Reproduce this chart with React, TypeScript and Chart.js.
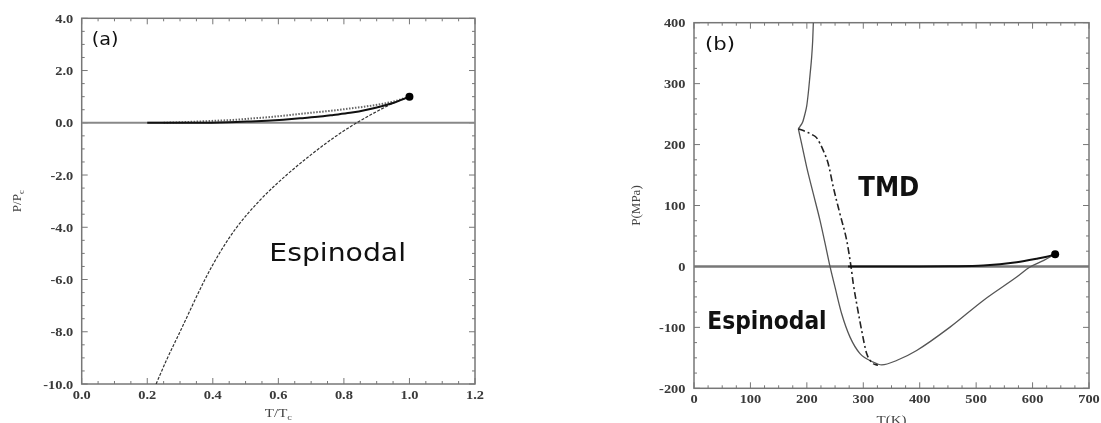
import React, { useEffect, useRef } from "react";
import { Chart, registerables } from "chart.js";
Chart.register(...registerables);

// ---------- Panel (a): reduced units ----------
const aZeroT = [0, 1.2];
const aZeroP = [0, 0];
const aSpinodalT = [0.227, 0.26, 0.30, 0.376, 0.42, 0.473, 0.545, 0.625, 0.70, 0.768, 0.839, 0.90, 0.95, 1.0];
const aSpinodalP = [-10.0, -9.05, -8.0, -6.0, -5.0, -4.0, -2.95, -2.0, -1.22, -0.58, 0.0, 0.43, 0.75, 1.0];
const aUpperT = [0.25, 0.30, 0.36, 0.41, 0.463, 0.513, 0.565, 0.615, 0.666, 0.72, 0.768, 0.819, 0.87, 0.95, 1.0];
const aUpperP = [0.0, 0.02, 0.05, 0.08, 0.11, 0.16, 0.21, 0.27, 0.34, 0.41, 0.47, 0.55, 0.63, 0.81, 1.0];
const aLowerT = [0.20, 0.35, 0.45, 0.513, 0.565, 0.615, 0.666, 0.72, 0.768, 0.819, 0.87, 0.95, 1.0];
const aLowerP = [0.0, 0.0, 0.02, 0.05, 0.08, 0.12, 0.17, 0.23, 0.30, 0.38, 0.5, 0.76, 1.0];
const aCriticalT = [1.0];
const aCriticalP = [1.0];

// ---------- Panel (b): T (K), P (MPa) ----------
const bZeroT = [0, 700];
const bZeroP = [0, 0];
const bMeltT = [184.9, 188, 192.6, 196.7, 199.7, 202.6, 205.6, 208.5, 210.3, 211.5];
const bMeltP = [226, 230, 237, 250.6, 263, 285, 314, 343.5, 370, 400];
const bSpinT = [184.9, 190.8, 199.7, 211.5, 223.3, 235, 241, 249.9, 261.7, 276.5, 294.2, 317.8, 332.6, 360, 394.6, 453.7, 512.7, 571.8, 595.4, 620, 640];
const bSpinP = [226, 201, 163, 119, 75.5, 26, 0, -34, -77.7, -116, -143, -157, -161.5, -154, -137.9, -99.6, -55.8, -17.5, -1, 10, 20];
const bTmdT = [184.9, 199.7, 210, 217.4, 229.2, 238, 246.9, 258.7, 270.6, 278.2, 282.3, 289.4, 297.1, 306, 317.8, 326];
const bTmdP = [226, 220.5, 216, 211, 190, 168, 130, 86, 42.7, 0, -28.5, -66.7, -105, -143, -159.7, -162];
const bCoexT = [273, 400, 453.7, 512.7, 571.8, 607, 625, 640];
const bCoexP = [0, 0, 0.3, 1.6, 7, 12.6, 16, 20];
const bCriticalT = [640];
const bCriticalP = [20];

const zip = (xs: number[], ys: number[]) => xs.map((x, i) => ({ x, y: ys[i] }));

type Label = { text: string; x: number; y: number; font: string; width: number };
type Decor = {
  xMinor: number; xMajor: number; yMinor: number; yMajor: number;
  fmt: (v: number) => string;
  xTitle: [string, string]; yTitle: [string, string];
  xTitleY: number; yTitleX: number;
  labels: Label[];
};

const TITLE_FONT = "13px 'Liberation Serif'";
const SUB_FONT = "9px 'Liberation Serif'";
const TICK_FONT = "bold 12px 'Liberation Serif'";
const STRETCH = 1.2;

function drawTitle(ctx: CanvasRenderingContext2D, parts: [string, string], sx: number) {
  ctx.font = TITLE_FONT;
  const w1 = ctx.measureText(parts[0]).width;
  ctx.font = SUB_FONT;
  const w2 = ctx.measureText(parts[1]).width;
  const total = w1 + w2;
  ctx.scale(sx, 1);
  ctx.textAlign = "left";
  ctx.textBaseline = "middle";
  ctx.font = TITLE_FONT;
  ctx.fillText(parts[0], -total / 2, 0);
  ctx.font = SUB_FONT;
  ctx.fillText(parts[1], -total / 2 + w1, 4);
}

function drawScaled(ctx: CanvasRenderingContext2D, text: string, x: number, y: number, align: CanvasTextAlign, sx: number) {
  ctx.save();
  ctx.translate(x, y);
  ctx.scale(sx, 1);
  ctx.textAlign = align;
  ctx.textBaseline = "middle";
  ctx.fillText(text, 0, 0);
  ctx.restore();
}

function decorPlugin(d: Decor) {
  return {
    id: "decor",
    beforeDatasetsDraw(chart: any) {
      const { ctx, chartArea: a, scales } = chart;
      const xs = scales.x, ys = scales.y;
      ctx.save();
      ctx.strokeStyle = "#777";
      ctx.lineWidth = 1;
      const isMajor = (v: number, m: number) => Math.abs(v / m - Math.round(v / m)) < 1e-6;
      const nx = Math.round((xs.max - xs.min) / d.xMinor);
      for (let i = 0; i <= nx; i++) {
        const v = xs.min + i * d.xMinor;
        const px = xs.getPixelForValue(v);
        const len = isMajor(v, d.xMajor) ? 6 : 3;
        ctx.beginPath();
        ctx.moveTo(px, a.bottom); ctx.lineTo(px, a.bottom - len);
        ctx.moveTo(px, a.top); ctx.lineTo(px, a.top + len);
        ctx.stroke();
      }
      const ny = Math.round((ys.max - ys.min) / d.yMinor);
      for (let i = 0; i <= ny; i++) {
        const v = ys.min + i * d.yMinor;
        const py = ys.getPixelForValue(v);
        const len = isMajor(v, d.yMajor) ? 6 : 3;
        ctx.beginPath();
        ctx.moveTo(a.left, py); ctx.lineTo(a.left + len, py);
        ctx.moveTo(a.right, py); ctx.lineTo(a.right - len, py);
        ctx.stroke();
      }
      ctx.lineWidth = 1.5;
      ctx.strokeRect(a.left, a.top, a.right - a.left, a.bottom - a.top);
      ctx.restore();
    },
    afterDraw(chart: any) {
      const { ctx, chartArea: a, scales } = chart;
      const xs = scales.x, ys = scales.y;
      ctx.save();
      // tick labels, taken from the scales' own ticks
      ctx.fillStyle = "#3a3a3a";
      ctx.font = TICK_FONT;
      for (const t of xs.ticks) {
        drawScaled(ctx, d.fmt(t.value), xs.getPixelForValue(t.value), a.bottom + 12, "center", STRETCH);
      }
      for (const t of ys.ticks) {
        drawScaled(ctx, d.fmt(t.value), a.left - 8.5, ys.getPixelForValue(t.value) + 1.5, "right", STRETCH);
      }
      // axis titles
      ctx.fillStyle = "#444";
      ctx.save();
      ctx.translate((a.left + a.right) / 2, d.xTitleY);
      drawTitle(ctx, d.xTitle, 1.15);
      ctx.restore();
      ctx.save();
      ctx.translate(d.yTitleX, (a.top + a.bottom) / 2);
      ctx.rotate(-Math.PI / 2);
      drawTitle(ctx, d.yTitle, 1.0);
      ctx.restore();
      // annotations
      ctx.fillStyle = "#111";
      ctx.textAlign = "left";
      ctx.textBaseline = "alphabetic";
      for (const l of d.labels) {
        ctx.font = l.font;
        const m = ctx.measureText(l.text).width;
        ctx.save();
        ctx.translate(l.x, l.y);
        ctx.scale(l.width / m, 1);
        ctx.fillText(l.text, 0, 0);
        ctx.restore();
      }
      ctx.restore();
    },
  };
}

function line(data: { x: number; y: number }[], color: string, width: number, dash: number[], order: number) {
  return {
    type: "line",
    data,
    borderColor: color,
    borderWidth: width,
    borderDash: dash,
    pointRadius: 0,
    fill: false,
    cubicInterpolationMode: "monotone",
    order,
  };
}

function point(data: { x: number; y: number }[]) {
  return {
    type: "scatter",
    data,
    backgroundColor: "#000",
    borderColor: "#000",
    borderWidth: 0,
    pointRadius: 4,
    showLine: false,
    order: 0,
  };
}

function axis(min: number, max: number, step: number, fit: (s: any) => void) {
  return {
    type: "linear", min, max,
    afterFit: fit,
    ticks: { stepSize: step, display: false, autoSkip: false },
    grid: { display: false, drawTicks: false },
    border: { display: false },
  };
}

function PanelA() {
  const ref = useRef<HTMLCanvasElement>(null);
  useEffect(() => {
    const chart = new Chart(ref.current as HTMLCanvasElement, {
      type: "line",
      data: {
        datasets: [
          point(zip(aCriticalT, aCriticalP)),
          line(zip(aLowerT, aLowerP), "#111", 2, [], 1),
          line(zip(aUpperT, aUpperP), "#666", 2, [1.5, 1.5], 2),
          line(zip(aSpinodalT, aSpinodalP), "#333", 1.2, [3, 1.5], 3),
          line(zip(aZeroT, aZeroP), "#888", 2, [], 5),
        ] as any,
      },
      options: {
        animation: false,
        responsive: false,
        maintainAspectRatio: false,
        events: [],
        layout: { padding: { left: 0, right: 75, top: 18.3, bottom: 0 } },
        plugins: { legend: { display: false }, tooltip: { enabled: false } },
        scales: {
          x: axis(0, 1.2, 0.2, (s: any) => { s.height = 39; }),
          y: axis(-10, 4, 2, (s: any) => { s.width = 81.7; }),
        },
      } as any,
      plugins: [
        decorPlugin({
          xMinor: 0.05, xMajor: 0.2, yMinor: 0.5, yMajor: 2,
          fmt: (v) => Number(v).toFixed(1),
          xTitle: ["T/T", "c"], yTitle: ["P/P", "c"],
          xTitleY: 414, yTitleX: 18,
          labels: [
            { text: "(a)", x: 91.7, y: 45, font: "17px 'DejaVu Sans'", width: 26.7 },
            { text: "Espinodal", x: 269.3, y: 260.7, font: "25px 'DejaVu Sans'", width: 136.7 },
          ],
        }),
      ],
    });
    return () => chart.destroy();
  }, []);
  return <canvas ref={ref} width={550} height={423} style={{ position: "absolute", left: 0, top: 0, width: 550, height: 423 }} />;
}

function PanelB() {
  const ref = useRef<HTMLCanvasElement>(null);
  useEffect(() => {
    const chart = new Chart(ref.current as HTMLCanvasElement, {
      type: "line",
      data: {
        datasets: [
          point(zip(bCriticalT, bCriticalP)),
          line(zip(bCoexT, bCoexP), "#111", 2, [], 1),
          line(zip(bTmdT, bTmdP), "#222", 1.6, [7, 3, 2, 3], 2),
          line(zip(bSpinT, bSpinP), "#555", 1.3, [], 3),
          line(zip(bMeltT, bMeltP), "#555", 1.3, [], 3),
          line(zip(bZeroT, bZeroP), "#777", 2.5, [], 5),
        ] as any,
      },
      options: {
        animation: false,
        responsive: false,
        maintainAspectRatio: false,
        events: [],
        layout: { padding: { left: 0, right: 12, top: 22.7, bottom: 0 } },
        plugins: { legend: { display: false }, tooltip: { enabled: false } },
        scales: {
          x: axis(0, 700, 100, (s: any) => { s.height = 34.7; }),
          y: axis(-200, 400, 100, (s: any) => { s.width = 144; }),
        },
      } as any,
      plugins: [
        decorPlugin({
          xMinor: 25, xMajor: 100, yMinor: 25, yMajor: 100,
          fmt: (v) => String(Math.round(v)),
          xTitle: ["T(K)", ""], yTitle: ["P(MPa)", ""],
          xTitleY: 421, yTitleX: 86.7,
          labels: [
            { text: "(b)", x: 155, y: 49.5, font: "17px 'DejaVu Sans'", width: 30 },
            { text: "TMD", x: 308.3, y: 196, font: "bold 26px 'DejaVu Sans'", width: 61 },
            { text: "Espinodal", x: 157.3, y: 329, font: "bold 24px 'DejaVu Sans'", width: 119.3 },
          ],
        }),
      ],
    });
    return () => chart.destroy();
  }, []);
  return <canvas ref={ref} width={551} height={423} style={{ position: "absolute", left: 550, top: 0, width: 551, height: 423 }} />;
}

export default function App() {
  return (
    <div style={{ position: "fixed", left: 0, top: 0, width: 1101, height: 423, background: "#fff", overflow: "hidden" }}>
      <PanelA />
      <PanelB />
    </div>
  );
}
